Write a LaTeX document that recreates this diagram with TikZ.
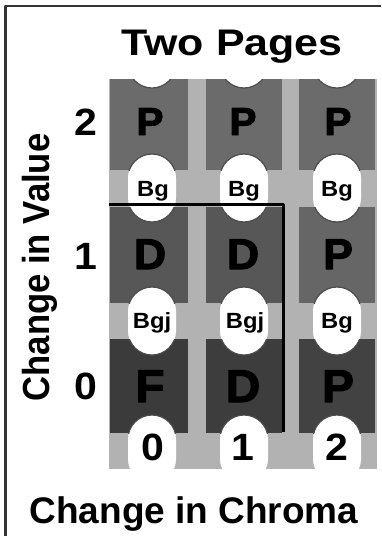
\documentclass[tikz,border=0pt]{standalone}
\usepackage{fontspec}
\newfontfamily\titlefont{Liberation Sans}[FakeStretch=1.16]
\newfontfamily\diagfont{Liberation Sans}[FakeStretch=1.08]
\newfontfamily\chipfont{Liberation Sans}[FakeStretch=1.04, FakeBold=2.5]
\newfontfamily\axisfont{Liberation Sans}
\newfontfamily\valuefont{Liberation Sans}[FakeStretch=0.92]
\definecolor{stripgray}{gray}{0.70}
\definecolor{framegray}{gray}{0.2}
\definecolor{rimgray}{gray}{0.3}

\begin{document}
\begin{tikzpicture}[x=1pt, y=-1pt, line join=round,
  tabletter/.style={font=\chipfont\bfseries\fontsize{#1}{#1}\selectfont, text=black, anchor=base, inner sep=0pt},
  holetext/.style={font=\diagfont\bfseries\fontsize{22}{22}\selectfont, anchor=base, inner sep=0pt},
  axisnum/.style={font=\diagfont\bfseries\fontsize{38}{38}\selectfont, anchor=base, inner sep=0pt},
  rim/.style={draw=rimgray, line width=1.2pt, fill=white}]

\useasboundingbox (0,0) rectangle (381,536);

% Frame on the left and top
\draw[framegray, line width=2.5pt] (5.3,536) -- (5.3,6) -- (381,6);

% Light grey backing strip
\fill[stripgray] (109,79) rectangle (377,469);

% White holes between the chips
\begin{scope}
\clip (109,79) rectangle (377,469);
\foreach \cx in {152,244,337} {
	\foreach \cy in {54,188,321,449} {
		\fill[white, rounded corners=24pt] (\cx-24,\cy-34) rectangle (\cx+24,\cy+34); % hole
	}
}
\end{scope}

% Chips: left/right edge, hole centre, top/bottom edge, holes above/below, tone
\foreach \xl/\xr/\cx/\yt/\yb/\ha/\hb/\tone in {
	110/188/152/79/170/54/188/black!58, 206/282/244/79/170/54/188/black!58, 299/375/337/79/170/54/188/black!58,
	110/188/152/207/303/188/321/black!66, 206/282/244/207/303/188/321/black!66, 299/375/337/207/303/188/321/black!60,
	110/188/152/339/433/321/449/black!77, 206/282/244/339/433/321/449/black!76, 299/375/337/339/433/321/449/black!74} {
	\begin{scope}
	\clip (\xl,\yt) rectangle (\xr,\yb);
	\fill[\tone] (\xl,\yt) rectangle (\xr,\yb);
	\filldraw[rim, rounded corners=24pt] (\cx-24,\ha-34) rectangle (\cx+24,\ha+34); % notch above
	\filldraw[rim, rounded corners=24pt] (\cx-24,\hb-34) rectangle (\cx+24,\hb+34); % notch below
	\end{scope}
}

% Boundary of the page pair
\coordinate (edgeW) at (109,204.5);
\coordinate (edgeNE) at (283.5,204.5);
\coordinate (edgeS) at (283.5,432);
\draw[black, line width=3pt] (edgeW) -- (edgeNE) -- (edgeS);

% Letters on the chips
\foreach \cx/\by/\sz/\lt [count=\i] in {
	150/135/39/P, 243/135/39/P, 338/135/39/P,
	150/269/43/D, 243/269/43/D, 338/269/43/P,
	150/402/46/F, 243/402/46/D, 338/402/46/P} {
	\node[tabletter=\sz] (chip\i) at (\cx,\by) {\lt};
}

% Labels in the holes
\foreach \cx/\by/\lt [count=\i] in {153/196/Bg, 244/196/Bg, 337/196/Bg, 152/328.5/Bgj, 245/328.5/Bgj, 337/328.5/Bg} {
	\node[holetext] (hole\i) at (\cx,\by) {\lt};
}

% Axis numbers
\node[axisnum] (val2) at (86,135) {2};
\node[axisnum] (val1) at (86,269) {1};
\node[axisnum] (val0) at (86,399) {0};
\node[axisnum] (chr0) at (152.5,460) {0};
\node[axisnum] (chr1) at (243,460) {1};
\node[axisnum] (chr2) at (337,460) {2};

% Titles
\node[font=\titlefont\bfseries\fontsize{37}{37}\selectfont, anchor=base, inner sep=0pt] (title) at (232,55) {Two Pages};
\node[font=\axisfont\bfseries\fontsize{37}{37}\selectfont, anchor=base, inner sep=0pt] (chroma) at (194,523) {Change in Chroma};
\node[font=\valuefont\bfseries\fontsize{37.7}{37.7}\selectfont, anchor=base, inner sep=0pt, rotate=90] (value) at (49,267.5) {Change in Value};

\end{tikzpicture}
\end{document}
